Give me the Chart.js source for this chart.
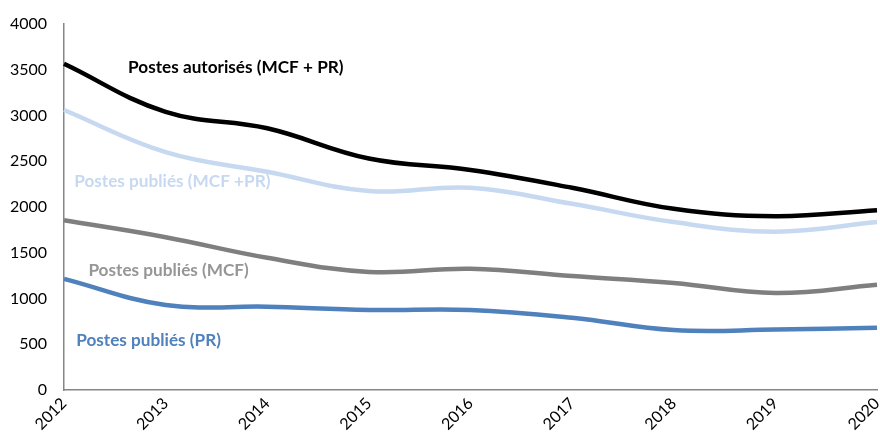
<!DOCTYPE html>
<html>
<head>
<meta charset="utf-8">
<script src="https://cdn.jsdelivr.net/npm/chart.js@4/dist/chart.umd.min.js"></script>
<style>
  html, body { margin: 0; padding: 0; background: #fff; }
  #wrap { width: 880px; height: 441px; }
</style>
</head>
<body>
<div id="wrap"><canvas id="graphique"></canvas></div>
<script>
// données
const annees = ['2012', '2013', '2014', '2015', '2016', '2017', '2018', '2019', '2020'];
const autorises = [3565, 3040, 2860, 2530, 2405, 2210, 1980, 1900, 1965];
const publiesTotal = [3060, 2600, 2385, 2175, 2210, 2035, 1835, 1730, 1835];
const publiesMCF = [1855, 1670, 1445, 1290, 1325, 1245, 1170, 1060, 1150];
const publiesPR = [1215, 930, 910, 875, 875, 790, 655, 660, 680];
const ticksY = [0, 500, 1000, 1500, 2000, 2500, 3000, 3500, 4000];

// étiquettes posées dans le graphique (position en index d'année / valeur)
const etiquettes = [
  { texte: 'Postes autorisés (MCF + PR)', x: 0.63, y: 3530, couleur: '#000000' },
  { texte: 'Postes publiés (MCF +PR)', x: 0.1, y: 2280, couleur: '#c6d9f1' },
  { texte: 'Postes publiés (MCF)', x: 0.24, y: 1310, couleur: '#969696' },
  { texte: 'Postes publiés (PR)', x: 0.12, y: 545, couleur: '#4f81bd' }
];

const police = 'Lato, "Open Sans", "Liberation Sans", sans-serif';

const pluginEtiquettes = {
  id: 'etiquettes',
  afterDatasetsDraw(chart) {
    const ctx = chart.ctx;
    const sx = chart.scales.x, sy = chart.scales.y;
    ctx.save();
    ctx.font = 'bold 17.2px ' + police;
    ctx.textBaseline = 'middle';
    ctx.textAlign = 'left';
    etiquettes.forEach(e => {
      const px = sx.getPixelForValue(0) + e.x * (sx.getPixelForValue(1) - sx.getPixelForValue(0));
      ctx.fillStyle = e.couleur;
      ctx.fillText(e.texte, px, sy.getPixelForValue(e.y));
    });
    ctx.restore();
  }
};

function serie(nom, data, couleur, epaisseur) {
  return {
    label: nom,
    data: data,
    borderColor: couleur,
    backgroundColor: couleur,
    borderWidth: epaisseur,
    pointRadius: 0,
    tension: 0.4,
    fill: false
  };
}

new Chart(document.getElementById('graphique'), {
  type: 'line',
  data: {
    labels: annees,
    datasets: [
      serie('Postes autorisés (MCF + PR)', autorises, '#000000', 4.5),
      serie('Postes publiés (MCF +PR)', publiesTotal, '#c6d9f1', 4.5),
      serie('Postes publiés (MCF)', publiesMCF, '#7f7f7f', 4.5),
      serie('Postes publiés (PR)', publiesPR, '#4f81bd', 4.5)
    ]
  },
  options: {
    responsive: true,
    maintainAspectRatio: false,
    animation: false,
    layout: { padding: { top: 24, right: 3, left: 0, bottom: 0 } },
    plugins: {
      legend: { display: false },
      tooltip: { enabled: false }
    },
    scales: {
      x: {
        grid: { display: false, drawTicks: false },
        border: { display: true, color: '#868686', width: 1.5 },
        offset: false,
        ticks: {
          color: '#000',
          font: { family: police, size: 16 },
          minRotation: 45,
          maxRotation: 45,
          padding: 4
        },
        afterFit: s => { s.height = 51; s.paddingLeft = 0; s.paddingRight = 0; }
      },
      y: {
        min: 0,
        max: 4000,
        grid: { display: false, drawTicks: false },
        border: { display: true, color: '#868686', width: 1.5 },
        afterBuildTicks: s => { s.ticks = ticksY.map(v => ({ value: v })); },
        ticks: {
          color: '#000',
          font: { family: police, size: 16 },
          padding: 17,
          callback: v => String(v)
        },
        afterFit: s => { s.width = 64; s.paddingTop = 0; s.paddingBottom = 0; }
      }
    }
  },
  plugins: [pluginEtiquettes]
});
</script>
</body>
</html>
